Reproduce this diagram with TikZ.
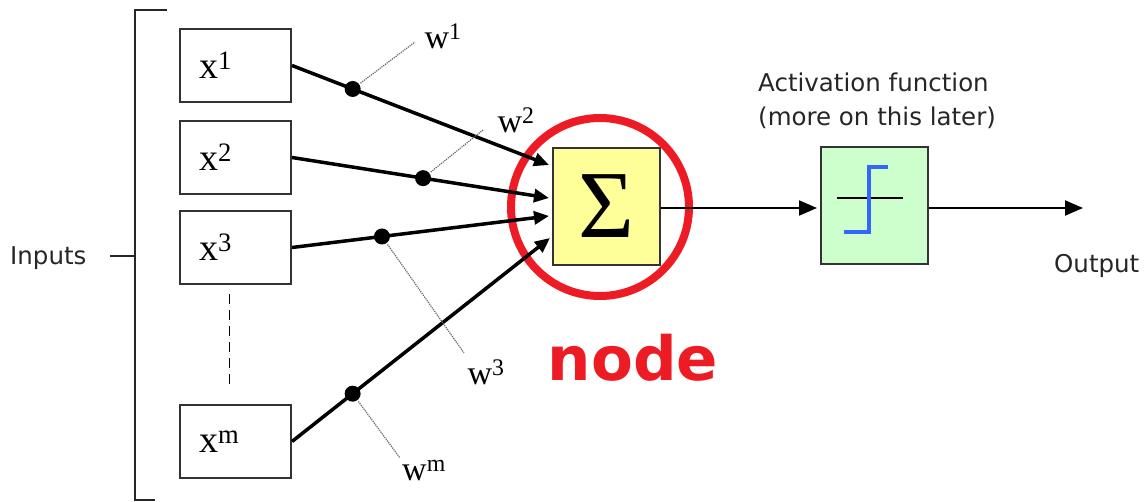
\documentclass[tikz,border=0pt]{standalone}
\usepackage{fontspec}
\setmainfont{Liberation Serif}
\newfontfamily\labelfont{DejaVu Sans}
\usetikzlibrary{arrows.meta}
\definecolor{nodered}{HTML}{ED1C24}
\definecolor{sumfill}{HTML}{FFFF99}
\definecolor{actfill}{HTML}{CCFFCC}
\definecolor{stepblue}{HTML}{3366FF}
\begin{document}
\begin{tikzpicture}[x=1pt,y=-1pt,
  inbox/.style={draw=black!80, line width=2pt, minimum width=111pt, minimum height=73pt,
    inner sep=0pt, text width=73pt, align=left, font=\fontsize{38}{38}\selectfont},
  bigbox/.style={draw=black!80, line width=2pt, minimum width=107pt, minimum height=117pt, inner sep=0pt},
  wline/.style={line width=3.5pt, -{Triangle[length=15pt,width=13pt]}},
  outline/.style={line width=2pt, -{Triangle[length=18pt,width=15pt]}},
  dot/.style={circle, fill=black, minimum size=16pt, inner sep=0pt},
  leader/.style={black!60, line width=1.2pt, densely dotted},
  wlabel/.style={font=\fontsize{34}{34}\selectfont, inner sep=0pt},
  sanslabel/.style={font=\labelfont\fontsize{24.5}{34}\selectfont, inner sep=0pt, text=black!85}
]
\useasboundingbox (0,0) rectangle (1145,502);
% input boxes
\node[inbox] (x1) at (235.5,65.5) {x\textsuperscript{1}};
\node[inbox] (x2) at (235.5,157.5) {x\textsuperscript{2}};
\node[inbox] (x3) at (235.5,247.5) {x\textsuperscript{3}};
\node[inbox] (xm) at (235.5,441.5) {x\textsuperscript{m}};
\draw[line width=1.8pt, dash pattern=on 10pt off 6pt] ([xshift=-6pt,yshift=-9pt]x3.south) -- ([xshift=-6pt,yshift=14pt]xm.north);
% bracket and Inputs
\coordinate (bt) at (167,10);
\coordinate (btl) at (135,10);
\coordinate (bbl) at (135,500);
\coordinate (bb) at (155,500);
\coordinate (bmid) at (135,256);
\draw[line width=2pt, black!85] (bt) -- (btl) -- (bbl) -- (bb);
\node[sanslabel, anchor=base west] (inputs) at (10,265) {Inputs};
\draw[line width=2pt, black!85] ([xshift=23pt]inputs.east |- bmid) -- (bmid);
% sum and activation boxes
\node[bigbox, fill=sumfill] (sum) at (606.5,206.5) {\fontsize{96}{96}\selectfont Σ};
\node[bigbox, fill=actfill] (act) at (874.5,205.5) {};
\coordinate (hl) at (837,198);
\coordinate (hr) at (903,198);
\draw[line width=1.8pt] (hl) -- (hr);
\coordinate (s1) at (844,232);
\coordinate (s2) at (869,232);
\coordinate (s3) at (869,167);
\coordinate (s4) at (888,167);
\draw[stepblue, line width=4pt] (s1) -- (s2) -- (s3) -- (s4);
% red ring
\node[draw=nodered, line width=8pt, circle, minimum size=178pt, inner sep=0pt] (ring) at (600,207) {};
% weighted connectors
\draw[wline] (x1.east) -- node[dot, pos=0.236] (d1) {} ([xshift=-3pt,yshift=41.5pt]sum.west);
\draw[wline] (x2.east) -- node[dot, pos=0.51] (d2) {} ([xshift=-3pt,yshift=8.5pt]sum.west);
\draw[wline] (x3.east) -- node[dot, pos=0.35] (d3) {} ([xshift=-3pt,yshift=-9.5pt]sum.west);
\draw[wline] (xm.east) -- node[dot, pos=0.235] (d4) {} ([xshift=-2pt,yshift=-31.5pt]sum.west);
% weight labels
\node[wlabel] (w1) at (443,36) {w\textsuperscript{1}};
\node[wlabel] (w2) at (516,120) {w\textsuperscript{2}};
\node[wlabel] (w3) at (486,372) {w\textsuperscript{3}};
\node[wlabel] (wm) at (424,471) {w\textsuperscript{m}};
\coordinate (l1) at (415,42);
\coordinate (l2) at (483,130);
\coordinate (l3) at (464,353);
\coordinate (l4) at (400,458);
\draw[leader] (d1) -- (l1);
\draw[leader] (d2) -- (l2);
\draw[leader] (d3) -- (l3);
\draw[leader] (d4) -- (l4);
% output path
\coordinate (outend) at (1083,208);
\draw[outline, shorten >=3pt] (sum.east |- outend) -- (act.west |- outend);
\draw[outline] (act.east |- outend) -- (outend);
\node[sanslabel, anchor=base west] (output) at (1054,273) {Output};
\node[sanslabel, anchor=west, align=left] (actlabel) at (758,100.5) {Activation function\\(more on this later)};
\node[text=nodered, font=\labelfont\bfseries\fontsize{61}{61}\selectfont, inner sep=0pt, anchor=base] (nodelabel) at (633,380) {node};
\end{tikzpicture}
\end{document}
